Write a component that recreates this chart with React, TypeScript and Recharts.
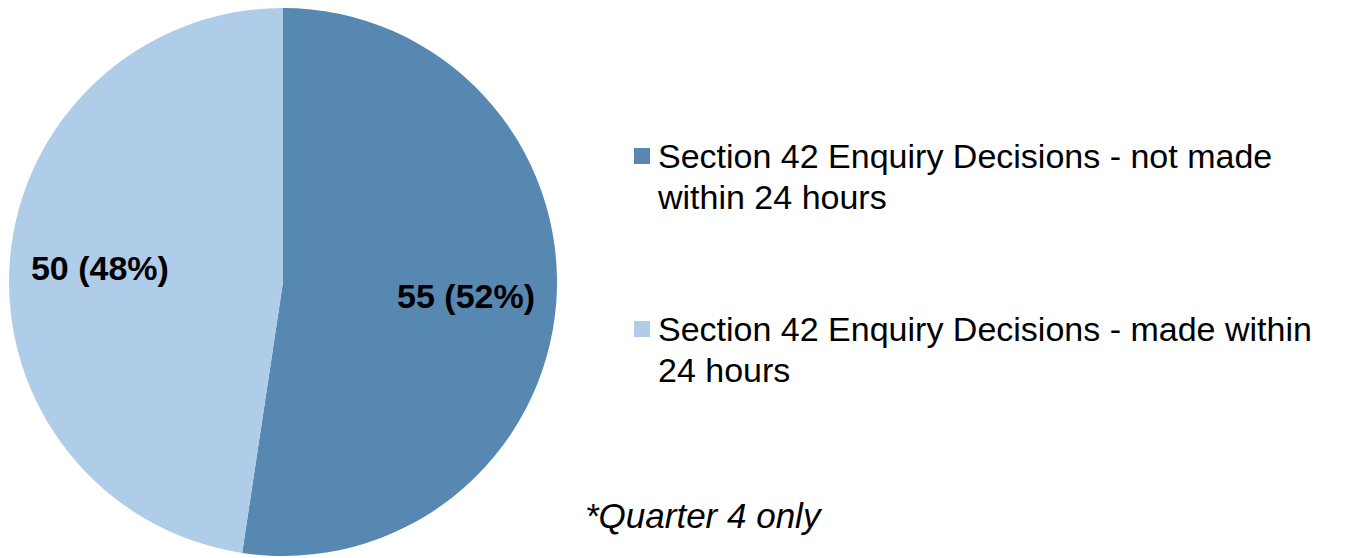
import { PieChart, Pie, Cell, Legend } from 'recharts';

const categories = [
  'Section 42 Enquiry Decisions - not made within 24 hours',
  'Section 42 Enquiry Decisions - made within 24 hours',
];
const values = [55, 50];
const colors = ['#5788b2', '#afcde9'];
const footnote = '*Quarter 4 only';

const data = categories.map((name, i) => ({ name, value: values[i] }));
const total = values.reduce((a, b) => a + b, 0);

const RADIAN = Math.PI / 180;

const renderLabel = (props: any) => {
  const { cx, cy, midAngle, outerRadius, value } = props;
  const r = outerRadius * 0.67;
  const x = cx + r * Math.cos(-midAngle * RADIAN);
  const y = cy + r * Math.sin(-midAngle * RADIAN);
  const pct = Math.round((value / total) * 100);
  return (
    <text
      x={x}
      y={y}
      textAnchor="middle"
      dominantBaseline="central"
      fill="#000"
      fontWeight="bold"
      fontSize={34}
      fontFamily="Liberation Sans, Arial, sans-serif"
    >
      {`${value} (${pct}%)`}
    </text>
  );
};

// legend drawn in data order (recharts 3 sorts payload by name otherwise)
const renderLegend = () => (
  <div style={{ fontFamily: 'Liberation Sans, Arial, sans-serif', fontSize: 34, lineHeight: '41px', color: '#000' }}>
    {data.map((d, i) => (
      <div key={d.name} style={{ display: 'flex', alignItems: 'flex-start', marginBottom: i === 0 ? 91 : 0 }}>
        <span
          style={{
            display: 'inline-block',
            width: 16,
            height: 16,
            background: colors[i],
            marginTop: 12,
            marginRight: 8,
            flexShrink: 0,
          }}
        />
        <span style={{ width: 682 }}>{d.name}</span>
      </div>
    ))}
  </div>
);

export default function App() {
  return (
    <div style={{ position: 'fixed', left: 0, top: 0, width: 1349, height: 558, background: '#fff' }}>
      <PieChart width={1349} height={558} margin={{ top: 0, right: 0, bottom: 0, left: 0 }}>
        <Pie
          data={data}
          dataKey="value"
          nameKey="name"
          cx={283}
          cy={282}
          outerRadius={274}
          startAngle={90}
          endAngle={-270}
          stroke="none"
          label={renderLabel}
          labelLine={false}
          isAnimationActive={false}
        >
          {data.map((d, i) => (
            <Cell key={d.name} fill={colors[i]} />
          ))}
        </Pie>
        <Legend
          layout="vertical"
          content={renderLegend}
          wrapperStyle={{ left: 634, top: 136, width: 715 }}
        />
      </PieChart>
      <div
        style={{
          position: 'absolute',
          left: 585,
          top: 496,
          fontFamily: 'Liberation Sans, Arial, sans-serif',
          fontStyle: 'italic',
          fontSize: 35,
          color: '#000',
        }}
      >
        {footnote}
      </div>
    </div>
  );
}
